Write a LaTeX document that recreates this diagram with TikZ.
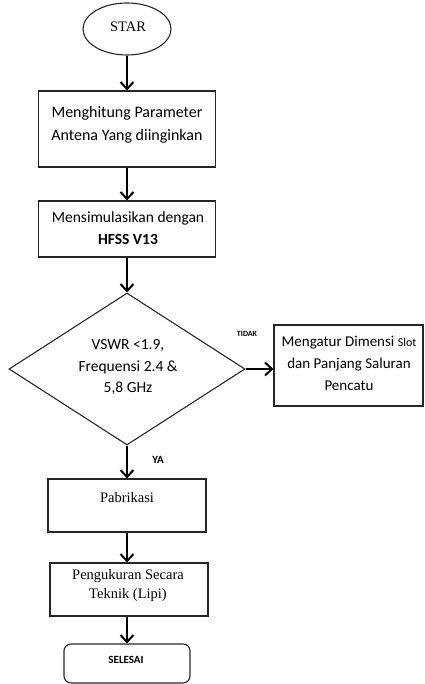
\documentclass[tikz,border=0pt]{standalone}
\usepackage{fontspec}
\setmainfont{Carlito}
\newfontfamily\timesf{Liberation Serif}
\usetikzlibrary{shapes.geometric,arrows.meta}
\begin{document}
\begin{tikzpicture}[x=1pt,y=-1pt,
  frame/.style={draw=black!85, line width=1.1pt, inner sep=0pt},
  arr/.style={line width=2pt, -{Straight Barb[length=7pt,width=13pt,line width=2pt]}},
  ctext/.style={align=center, inner sep=0pt, font=\fontsize{15.5}{22}\selectfont},
  ttext/.style={align=center, inner sep=0pt, font=\timesf\fontsize{14.5}{19}\selectfont}
]
\useasboundingbox (0,0) rectangle (424,684);
% shapes
\node[frame, ellipse, minimum width=88pt, minimum height=52pt] (star) at (127,29) {};
\node[ttext] (startxt) at (128,27) {STAR};
\node[frame, rectangle, minimum width=177pt, minimum height=76pt] (b1) at (127,129) {};
\node[ctext, font=\fontsize{16}{23}\selectfont] (b1t) at (127,125) {Menghitung Parameter\\Antena Yang diinginkan};
\node[frame, rectangle, minimum width=177pt, minimum height=56pt] (b2) at (127,229) {};
\node[ctext] (b2t) at (128,228) {Mensimulasikan dengan\\\textbf{HFSS V13}};
\node[frame, diamond, aspect=1.55, minimum width=236pt, minimum height=152pt] (dec) at (127,369) {};
\node[ctext, font=\fontsize{15.5}{21.5}\selectfont] (dect) at (128,367) {VSWR <1.9,\\Frequensi 2.4 \&\\5,8 GHz};
\node[frame, rectangle, minimum width=149pt, minimum height=81pt] (b3) at (348.5,365.5) {};
\node[ctext, font=\fontsize{15}{22}\selectfont] (b3t) at (349,363) {Mengatur Dimensi {\fontsize{12}{22}\selectfont Slot}\\dan Panjang Saluran\\Pencatu};
\node[frame, rectangle, minimum width=158pt, minimum height=53pt] (b4) at (127,505.5) {};
\node[ttext] (b4t) at (127,498) {Pabrikasi};
\node[frame, rectangle, minimum width=158pt, minimum height=53pt] (b5) at (129,589.5) {};
\node[ttext] (b5t) at (128,586) {Pengukuran Secara\\Teknik (Lipi)};
\node[frame, rectangle, rounded corners=7pt, minimum width=126pt, minimum height=39pt] (b6) at (127,663.5) {};
\node[inner sep=0pt, font=\bfseries\fontsize{11}{13}\selectfont] (b6t) at (126,660) {SELESAI};
% labels
\node[inner sep=0pt, font=\bfseries\fontsize{8}{10}\selectfont] (tidak) at (247,334) {TIDAK};
\node[inner sep=0pt, font=\bfseries\fontsize{11}{13}\selectfont] (ya) at (158,460) {YA};
% connectors
\draw[arr] (star.south) -- (b1.north);
\draw[arr] (b1.south) -- (b2.north);
\draw[arr] (b2.south) -- (dec.north);
\draw[arr] (dec.east) -- (dec.east -| b3.west);
\draw[arr] (dec.south) -- (dec.south |- b4.north);
\draw[arr] (b4.south) -- (b4.south |- b5.north);
\draw[arr] (b5.south -| b6.north) -- (b6.north);
\end{tikzpicture}
\end{document}
